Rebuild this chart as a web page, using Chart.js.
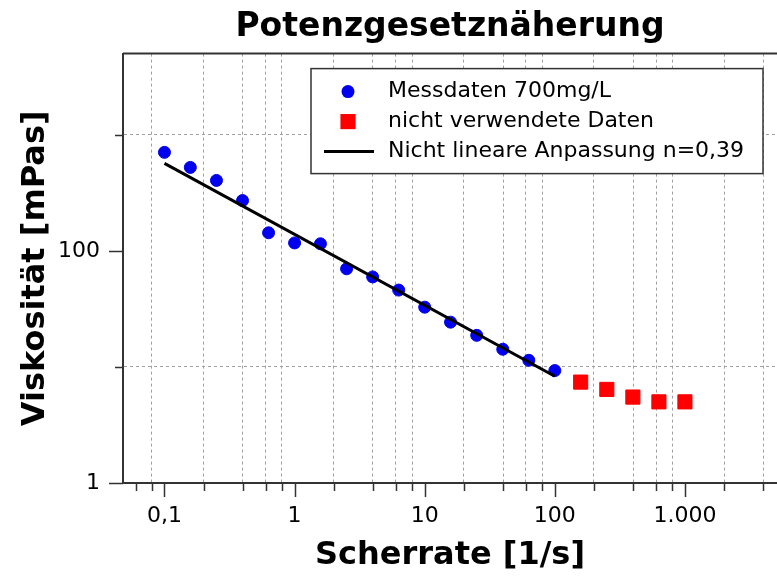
<!DOCTYPE html>
<html>
<head>
<meta charset="utf-8">
<script src="https://cdn.jsdelivr.net/npm/chart.js@4.4.0/dist/chart.umd.min.js"></script>
<style>
    html, body { margin: 0; padding: 0; background: #fff; overflow: hidden; }
</style>
</head>
<body>
<canvas id="viscosityChart" width="777" height="580"></canvas>
<script>
// Measured data (shear rate in 1/s, viscosity in mPas)
const shearRate = [0.1, 0.158, 0.251, 0.398, 0.631, 1, 1.58, 2.51, 3.98, 6.31, 10, 15.8, 25.1, 39.8, 63.1, 100];
const viscosity = [705, 523, 404, 271, 143, 117, 115, 70, 59.6, 45.9, 32.7, 24.3, 18.7, 14.2, 11.4, 9.3];

// Points left out of the fit
const unusedShearRate = [158, 251, 398, 631, 1000];
const unusedViscosity = [7.4, 6.4, 5.5, 5.0, 5.0];

// Power law fit, n = 0.39
const fitShearRate = [0.1, 100];
const fitViscosity = [566, 8.3];

// Axis ticks and labels
const xLabelTicks = [0.1, 1, 10, 100, 1000];
const xTickLabels = ['0,1', '1', '10', '100', '1.000'];
const yLabelTicks = [1, 100];
const yTickLabels = ['1', '100'];
const yGridTicks = [10, 1000];

const legendLabels = ['Messdaten 700mg/L', 'nicht verwendete Daten', 'Nicht lineare Anpassung n=0,39'];

const X_MIN = 0.048, X_MAX = 5100;
const Y_MIN = 1, Y_MAX = 5000;
const GRID_COLOR = '#a0a0a0';
const AXIS_COLOR = '#333333';
const FONT = 'DejaVu Sans';

function toPoints(xs, ys) {
    return xs.map((x, i) => ({ x: x, y: ys[i] }));
}

// minor x ticks at 2, 4, 6, 8 of each decade
function xMinorTicks() {
    const out = [];
    for (let e = -2; e <= 3; e++) {
        [2, 4, 6, 8].forEach(m => {
            const v = parseFloat((m * Math.pow(10, e)).toPrecision(6));
            if (v >= X_MIN && v <= X_MAX) out.push(v);
        });
    }
    return out;
}

const axisTicks = {
    id: 'axisTicks',
    afterDraw(chart) {
        const { ctx, chartArea, scales: { x, y } } = chart;
        ctx.save();
        ctx.strokeStyle = AXIS_COLOR;
        ctx.lineWidth = 1.5;
        ctx.beginPath();
        x.ticks.forEach(t => {
            const px = Math.round(x.getPixelForValue(t.value)) + 0.5;
            const len = xLabelTicks.includes(t.value) ? 14 : 8;
            ctx.moveTo(px, chartArea.bottom);
            ctx.lineTo(px, chartArea.bottom + len);
        });
        y.ticks.forEach(t => {
            const py = Math.round(y.getPixelForValue(t.value)) + 0.5;
            const len = yLabelTicks.includes(t.value) ? 14 : 8;
            ctx.moveTo(chartArea.left, py);
            ctx.lineTo(chartArea.left - len, py);
        });
        ctx.stroke();
        // top frame line
        ctx.lineWidth = 2;
        ctx.beginPath();
        ctx.moveTo(chartArea.left, chartArea.top);
        ctx.lineTo(chartArea.right, chartArea.top);
        ctx.stroke();
        ctx.restore();
    }
};

const boxLegend = {
    id: 'boxLegend',
    afterDraw(chart) {
        const { ctx, chartArea } = chart;
        const w = 452, h = 105;
        const left = chartArea.right - 14 - w;
        const top = chartArea.top + 15;
        ctx.save();
        ctx.fillStyle = '#fff';
        ctx.fillRect(left, top, w, h);
        ctx.strokeStyle = AXIS_COLOR;
        ctx.lineWidth = 1.5;
        ctx.strokeRect(left, top, w, h);

        const sx = left + 37;
        const tx = left + 77;
        const rows = [top + 23, top + 53, top + 83];
        const ds = chart.data.datasets;

        // blue circle
        ctx.fillStyle = ds[0].backgroundColor;
        ctx.beginPath();
        ctx.arc(sx, rows[0], ds[0].pointRadius + 0.5, 0, Math.PI * 2);
        ctx.fill();
        // red square
        const half = ds[1].pointRadius * Math.SQRT1_2 + 0.5;
        ctx.fillStyle = ds[1].backgroundColor;
        ctx.fillRect(sx - half, rows[1] - half, half * 2, half * 2);
        // fit line
        ctx.strokeStyle = ds[2].borderColor;
        ctx.lineWidth = ds[2].borderWidth;
        ctx.beginPath();
        ctx.moveTo(sx - 24, rows[2]);
        ctx.lineTo(sx + 26, rows[2]);
        ctx.stroke();

        ctx.fillStyle = '#000';
        ctx.font = '22px "' + FONT + '"';
        ctx.textBaseline = 'middle';
        ctx.textAlign = 'left';
        legendLabels.forEach((txt, i) => ctx.fillText(txt, tx, rows[i]));
        ctx.restore();
    }
};

new Chart(document.getElementById('viscosityChart'), {
    type: 'scatter',
    data: {
        datasets: [{
            label: legendLabels[0],
            data: toPoints(shearRate, viscosity),
            backgroundColor: '#0000ee',
            borderColor: '#0000ee',
            borderWidth: 1,
            pointRadius: 6,
            pointStyle: 'circle',
            order: 2
        }, {
            label: legendLabels[1],
            data: toPoints(unusedShearRate, unusedViscosity),
            backgroundColor: '#ff0000',
            borderColor: '#ff0000',
            borderWidth: 1,
            pointRadius: 10,
            pointStyle: 'rect',
            order: 3
        }, {
            label: legendLabels[2],
            data: toPoints(fitShearRate, fitViscosity),
            showLine: true,
            borderColor: '#000000',
            backgroundColor: '#000000',
            borderWidth: 3,
            pointRadius: 0,
            order: 1
        }]
    },
    options: {
        responsive: false,
        animation: false,
        layout: { padding: 0, autoPadding: false },
        plugins: {
            legend: { display: false },
            tooltip: { enabled: false },
            title: {
                display: true,
                text: 'Potenzgesetznäherung',
                fullSize: false,
                color: '#000',
                font: { family: FONT, size: 33, weight: 'bold' },
                padding: { top: 8, bottom: 6 }
            }
        },
        scales: {
            x: {
                type: 'logarithmic',
                min: X_MIN,
                max: X_MAX,
                afterFit: s => {
                    s.height = 97;
                    s.paddingLeft = 0;
                    s.paddingRight = 0;
                },
                afterBuildTicks: s => {
                    const vals = xLabelTicks.concat(xMinorTicks()).sort((a, b) => a - b);
                    s.ticks = vals.map(v => ({ value: v }));
                },
                ticks: {
                    autoSkip: false,
                    maxRotation: 0,
                    padding: 20,
                    color: '#000',
                    font: { family: FONT, size: 22 },
                    callback: v => {
                        const i = xLabelTicks.indexOf(v);
                        return i >= 0 ? xTickLabels[i] : '';
                    }
                },
                grid: {
                    drawTicks: false,
                    lineWidth: 1,
                    color: c => {
                        const v = c.tick ? c.tick.value : null;
                        return (v !== null && !xLabelTicks.includes(v) && v > 0.07) ? GRID_COLOR : 'rgba(0,0,0,0)';
                    }
                },
                border: { display: true, color: AXIS_COLOR, width: 2, dash: [3, 3] },
                title: {
                    display: true,
                    text: 'Scherrate [1/s]',
                    color: '#000',
                    font: { family: FONT, size: 32, weight: 'bold' },
                    padding: { top: 0, bottom: 5 }
                }
            },
            y: {
                type: 'logarithmic',
                min: Y_MIN,
                max: Y_MAX,
                afterFit: s => {
                    s.width = 123;
                    s.paddingTop = 0;
                    s.paddingBottom = 0;
                },
                afterBuildTicks: s => {
                    const vals = yLabelTicks.concat(yGridTicks).sort((a, b) => a - b);
                    s.ticks = vals.map(v => ({ value: v }));
                },
                ticks: {
                    autoSkip: false,
                    padding: 23,
                    color: '#000',
                    font: { family: FONT, size: 22 },
                    callback: v => {
                        const i = yLabelTicks.indexOf(v);
                        return i >= 0 ? yTickLabels[i] : '';
                    }
                },
                grid: {
                    drawTicks: false,
                    lineWidth: 1,
                    color: c => (c.tick && yGridTicks.includes(c.tick.value)) ? GRID_COLOR : 'rgba(0,0,0,0)'
                },
                border: { display: true, color: AXIS_COLOR, width: 2, dash: [3, 3] },
                title: {
                    display: true,
                    text: 'Viskosität [mPas]',
                    color: '#000',
                    font: { family: FONT, size: 32, weight: 'bold' },
                    padding: { top: 16, bottom: 0 }
                }
            }
        }
    },
    plugins: [axisTicks, boxLegend]
});
</script>
</body>
</html>
